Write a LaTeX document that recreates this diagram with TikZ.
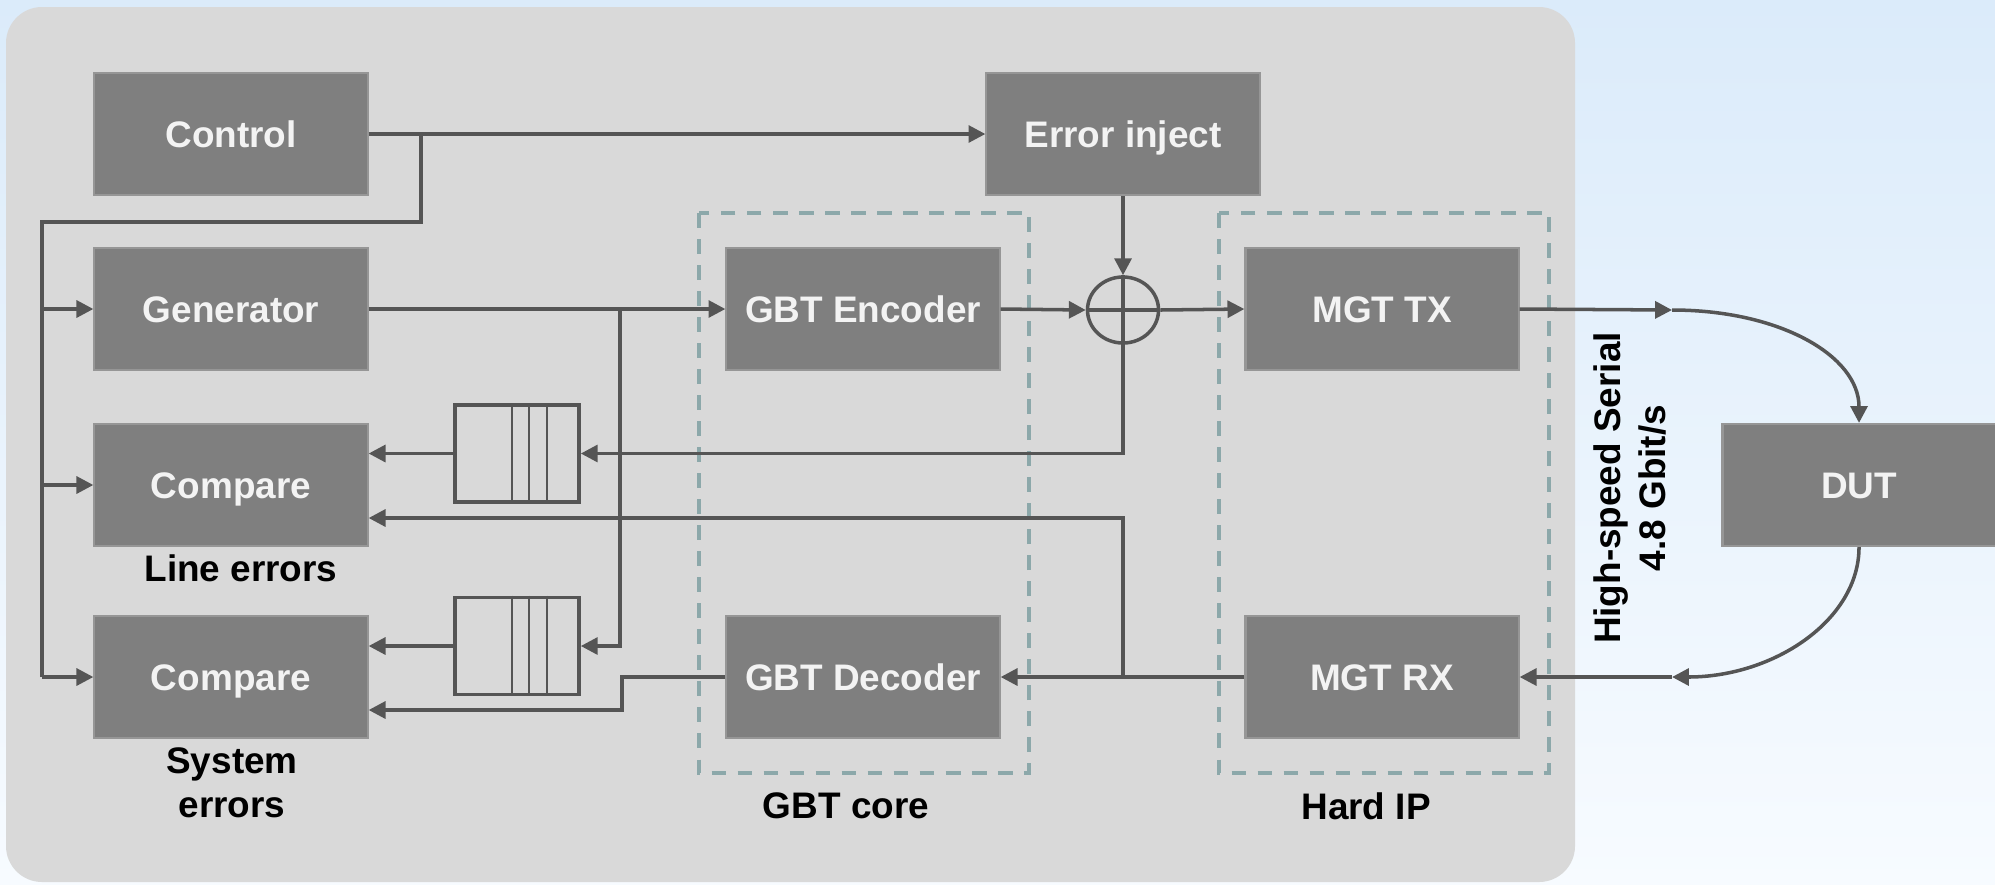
\documentclass[tikz,border=0pt]{standalone}
\usepackage{fontspec}
\setmainfont{Liberation Sans}
\usetikzlibrary{arrows.meta,shapes.geometric,calc}

\definecolor{bgtop}{RGB}{219,235,250}
\definecolor{bgbot}{RGB}{247,251,255}
\definecolor{panel}{RGB}{217,217,217}
\definecolor{blockfill}{RGB}{127,127,127}
\definecolor{blockedge}{RGB}{150,150,150}
\definecolor{wire}{RGB}{85,85,85}
\definecolor{groupline}{RGB}{140,168,170}
\definecolor{blocktext}{RGB}{243,243,243}

\begin{document}
\begin{tikzpicture}[x=0.01cm,y=-0.01cm,
  block/.style={rectangle, fill=blockfill, draw=blockedge, line width=0.6pt,
    minimum width=2.73cm, minimum height=1.22cm, inner sep=0pt,
    text height=7.6pt, text depth=0pt,
    text=blocktext, font=\fontsize{10.5}{12.6}\selectfont\bfseries},
  wire/.style={draw=wire, line width=1pt},
  thinwire/.style={draw=wire, line width=0.6pt},
  flow/.style={wire, -{Triangle[length=4.8pt,width=4.8pt]}},
  group/.style={draw=groupline, line width=1pt, dash pattern=on 4.2pt off 3.2pt},
  caption/.style={font=\fontsize{10.5}{12.6}\selectfont\bfseries, text=black, align=center},
  fifo/.style={draw=wire, line width=1pt, minimum width=1.24cm, minimum height=0.97cm, inner sep=0pt},
  xorgate/.style={ellipse, draw=wire, line width=1pt, minimum width=0.71cm, minimum height=0.66cm, inner sep=0pt}
]
\useasboundingbox (0,0) rectangle (1995,884);

% backdrop and board panel
\shade[top color=bgtop, bottom color=bgbot] (0,0) rectangle (1995,884);
\fill[panel, rounded corners=0.36cm] (6,7) rectangle (1575,882);

% dashed groupings
\draw[group] (699,213) rectangle (1029,773);
\draw[group] (1219,213) rectangle (1549,773);
\node[caption] (gbtcap) at (846,806) {GBT core};
\node[caption] (hipcap) at (1366,806) {Hard IP};

% functional blocks
\node[block] (ctrl) at (231,134) {Control};
\node[block] (gen)  at (231,309) {Generator};
\node[block] (cmp1) at (231,485) {Compare};
\node[block] (cmp2) at (231,677) {Compare};
\node[block] (inj)  at (1123,134) {Error inject};
\node[block] (enc)  at (863,309) {GBT Encoder};
\node[block] (dec)  at (863,677) {GBT Decoder};
\node[block] (tx)   at (1382,309) {MGT TX};
\node[block] (rx)   at (1382,677) {MGT RX};
\node[block] (dut)  at (1859,485) {DUT};

\node[caption] (lecap) at (241,568) {Line errors};
\node[caption] (secap) at (232,783) {System\\errors};

% FIFOs
\node[fifo] (f1) at (517,453.5) {};
\node[fifo] (f2) at (517,646) {};
\foreach \f in {f1,f2}{
  \foreach \dx in {59,76,94}{
    \draw[thinwire] ($(\f.north west)+(\dx,0)$) -- ($(\f.south west)+(\dx,0)$);
  }
}

% XOR for error injection
\node[xorgate] (xor) at (1123,310) {};
\draw[wire] (xor.north) -- (xor.south) (xor.west) -- (xor.east);

% control distribution
\coordinate (cb) at (421,134);
\coordinate (lbus) at (42,222);
\draw[flow] (ctrl.east) -- (inj.west);
\draw[wire] (cb) |- (lbus) -- (lbus |- cmp2.west);
\draw[flow] (lbus |- gen.west) -- (gen.west);
\draw[flow] (lbus |- cmp1.west) -- (cmp1.west);
\draw[flow] (lbus |- cmp2.west) -- (cmp2.west);

% generator path
\coordinate (gb) at (620,309);
\draw[flow] (gen.east) -- (enc.west);
\draw[flow] (gb) |- (f2.east);
\draw[flow] (f2.west) -- (cmp2.east |- f2.west);

% encoder, error injection, transmitter
\draw[flow] (inj.south) -- (xor.north);
\draw[flow] (enc.east) -- (xor.west);
\draw[flow] (xor.east) -- (tx.west);
\draw[flow] (xor.south) |- (f1.east);
\draw[flow] (f1.west) -- (cmp1.east |- f1.west);

% receiver and decoder
\coordinate (rb) at (1123,677);
\coordinate (rbt) at (1123,518);
\draw[flow] (rx.west) -- (dec.east);
\draw[flow] (rb) -- (rbt) -- (cmp1.east |- rbt);
\coordinate (dk) at (622,710);
\draw[flow] (dec.west) -| (dk) -- (cmp2.east |- dk);

% high-speed serial loop through the DUT
\coordinate (txo) at (1672,310);
\coordinate (rxi) at (1672,677);
\draw[flow] (tx.east) -- (txo);
\draw[flow] (txo) .. controls (1780,310) and (1859,356) .. (dut.north);
\draw[flow] (dut.south) .. controls (1859,620) and (1774,677) .. (rxi);
\draw[flow] (rxi) -- (rx.east);
\node[caption, rotate=90] (hs) at (1630,488) {High-speed Serial\\4.8 Gbit/s};
\end{tikzpicture}
\end{document}
